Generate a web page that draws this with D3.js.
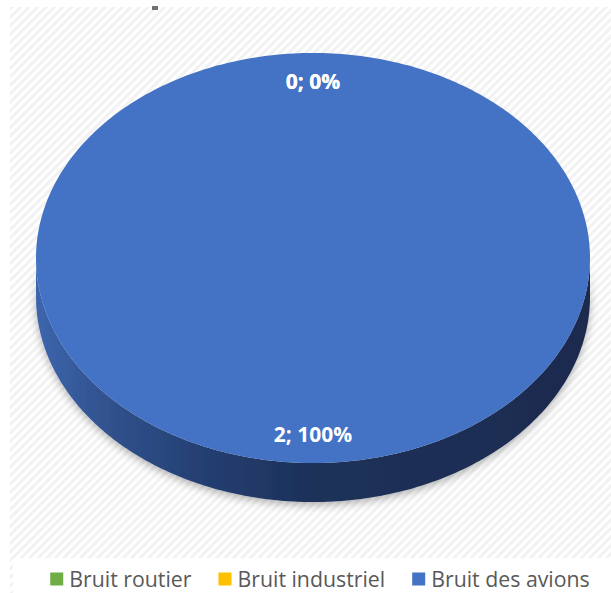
<!DOCTYPE html>
<html><head><meta charset="utf-8">
<script src="https://cdn.jsdelivr.net/npm/d3@7"></script>
<style>html,body{margin:0;padding:0;background:#fff;}svg{display:block;}</style>
</head><body>
<svg id="c" width="611" height="593"></svg>
<script>
const categories = ["Bruit routier", "Bruit industriel", "Bruit des avions"];
const values = [0, 0, 2];
const sliceColors = ["#70AD47", "#FFC000", "#4472C4"];

const W = 611, H = 593;
const svg = d3.select("#c");
const defs = svg.append("defs");

// hatch background
const pat = defs.append("pattern").attr("id","hatch").attr("patternUnits","userSpaceOnUse")
  .attr("width",6).attr("height",6).attr("patternTransform","rotate(45)");
pat.append("rect").attr("width",6).attr("height",6).attr("fill","#ffffff");
pat.append("rect").attr("width",3).attr("height",6).attr("fill","#f2f2f2");
svg.append("rect").attr("x",10).attr("y",7).attr("width",W-10).attr("height",H-7).attr("fill","url(#hatch)");
svg.append("rect").attr("x",13).attr("y",558).attr("width",W-13).attr("height",H-558).attr("fill","#ffffff");
// clipped title remnant
svg.append("rect").attr("x",152).attr("y",6).attr("width",6).attr("height",4).attr("fill","#5a5a5a").attr("opacity",0.85);

const color = d3.scaleOrdinal().domain(categories).range(sliceColors);
const total = d3.sum(values);
const pie = d3.pie().sort(null).value(d => d.v);
const arcs = pie(categories.map((c,i)=>({c, v: values[i]})));

const cx = 313, cy = 258, rx = 277, ry = 205, depth = 39;
const px = a => cx + rx*Math.sin(a);
const py = a => cy - ry*Math.cos(a);

// side gradient & shadow
const grad = defs.append("linearGradient").attr("id","sideGrad").attr("gradientUnits","userSpaceOnUse")
  .attr("x1",cx-rx).attr("x2",cx+rx).attr("y1",0).attr("y2",0);
[[0,"#3d65ad"],[0.12,"#31538f"],[0.3,"#243f72"],[0.5,"#1d3159"],[1,"#1a2b4e"]]
  .forEach(([o,c])=>grad.append("stop").attr("offset",o).attr("stop-color",c));
const f = defs.append("filter").attr("id","shadow").attr("x","-10%").attr("y","-20%").attr("width","120%").attr("height","160%");
f.append("feDropShadow").attr("dx",0).attr("dy",3).attr("stdDeviation",4).attr("flood-color","#000").attr("flood-opacity",0.3);

const N = 180;
function sidePath(a0, a1){
  const lo = Math.max(a0, Math.PI/2), hi = Math.min(a1, 3*Math.PI/2);
  if (hi <= lo) return null;
  const pts = d3.range(N+1).map(k => lo + (hi-lo)*k/N);
  let p = "M" + pts.map(a=>[px(a),py(a)].join(",")).join("L");
  p += "L" + pts.slice().reverse().map(a=>[px(a),py(a)+depth].join(",")).join("L") + "Z";
  return p;
}
function topPath(a0, a1){
  if (a1 - a0 <= 0) return null;
  const pts = d3.range(N*2+1).map(k => a0 + (a1-a0)*k/(N*2));
  let p = "M" + pts.map(a=>[px(a),py(a)].join(",")).join("L");
  if (a1 - a0 < 2*Math.PI - 1e-9) p += "L" + cx + "," + cy;
  return p + "Z";
}

const sideG = svg.append("g").attr("filter","url(#shadow)");
arcs.forEach(d=>{
  const p = sidePath(d.startAngle, d.endAngle);
  if (p) sideG.append("path").attr("d",p).attr("fill","url(#sideGrad)");
});
const topG = svg.append("g");
arcs.forEach(d=>{
  const p = topPath(d.startAngle, d.endAngle);
  if (p) topG.append("path").attr("d",p).attr("fill",color(d.data.c));
});

// data labels
const pct = d3.format(".0%");
const lf = 0.86;
svg.append("g").selectAll("text").data(arcs).join("text")
  .attr("x", d => cx + lf*rx*Math.sin((d.startAngle+d.endAngle)/2))
  .attr("y", d => cy - lf*ry*Math.cos((d.startAngle+d.endAngle)/2))
  .attr("dy","0.35em").attr("text-anchor","middle")
  .attr("font-family","'Open Sans', sans-serif").attr("font-weight","bold").attr("font-size",21)
  .attr("fill","#ffffff")
  .text(d => `${d.data.v}; ${pct(total ? d.data.v/total : 0)}`);

// legend
const lg = svg.append("g");
const ly = 580, sq = 13, gapSq = 6, gapItem = 27;
const items = lg.selectAll("g").data(categories).join("g");
items.append("rect").attr("width",sq).attr("height",sq).attr("y",ly-sq/2-1).attr("fill",d=>color(d));
items.append("text").attr("x",sq+gapSq).attr("y",ly).attr("dy","0.35em")
  .attr("font-family","'Open Sans', sans-serif").attr("font-size",21.3).attr("fill","#595959").text(d=>d);
let widths = [];
items.each(function(){ widths.push(sq+gapSq+d3.select(this).select("text").node().getComputedTextLength()); });
const totalW = d3.sum(widths) + gapItem*(widths.length-1);
let x0 = 320 - totalW/2;
items.attr("transform",(d,i)=>{ const t = `translate(${x0},0)`; x0 += widths[i]+gapItem; return t; });
</script>
</body></html>
